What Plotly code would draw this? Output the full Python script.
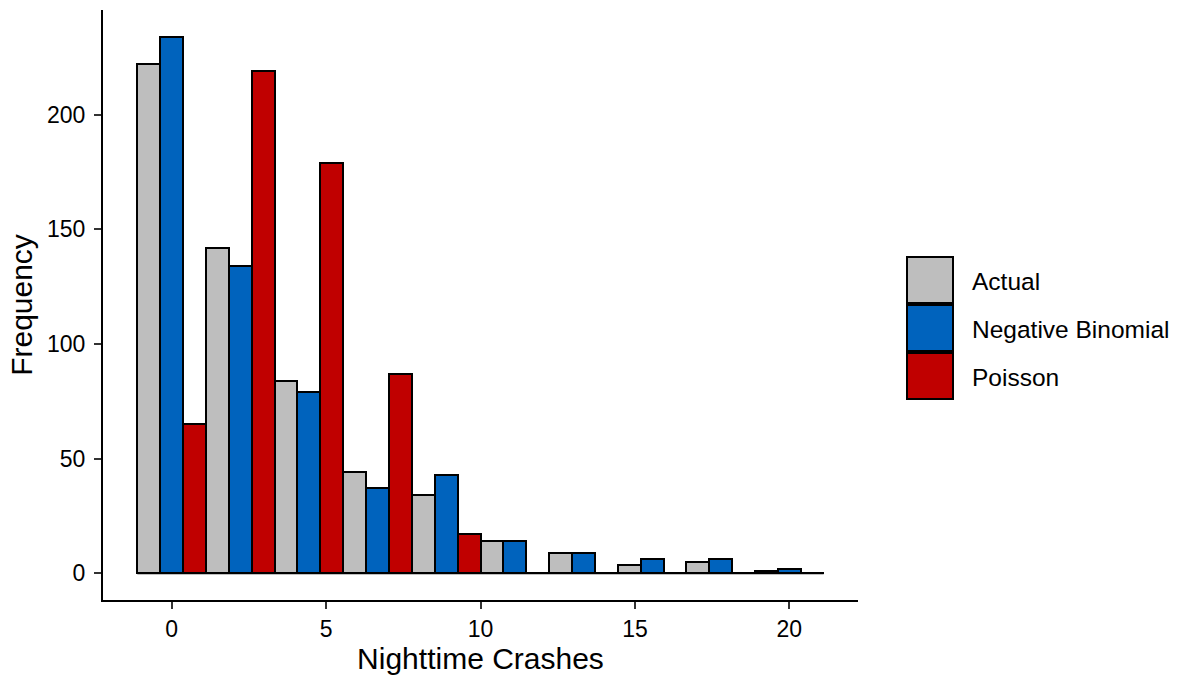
import plotly.graph_objects as go

# ---- data ----
bin_centers = [0.0, 2.2222, 4.4444, 6.6667, 8.8889, 11.1111, 13.3333, 15.5556, 17.7778, 20.0]
bin_width = 20.0 / 9
series_names = ["Actual", "Negative Binomial", "Poisson"]
actual = [222, 142, 84, 44, 34, 14, 9, 3.5, 5, 1]
neg_binomial = [234, 134, 79, 37, 43, 14, 9, 6, 6, 2]
poisson = [65, 219, 179, 87, 17, 0, 0, 0, 0, 0]
colors = ["#BEBEBE", "#0063BD", "#C00000"]
x_ticks = [0, 5, 10, 15, 20]
y_ticks = [0, 50, 100, 150, 200]

FONT = "Liberation Sans, Arial, sans-serif"
W, H = 1181, 680
ML, MR, MT, MB = 103, 323, 10, 80
PW, PH = W - ML - MR, H - MT - MB

def px2x(px):
    return (px - ML) / PW

def px2y(py):
    return (H - MB - py) / PH

fig = go.Figure()
for name, vals, col in zip(series_names, [actual, neg_binomial, poisson], colors):
    fig.add_trace(go.Bar(
        x=bin_centers, y=vals, name=name,
        marker=dict(color=col, line=dict(color="black", width=2)),
        showlegend=False,
    ))

# baseline for zero-height bars (spans the binned range)
fig.add_shape(type="line", xref="x", yref="y",
              x0=bin_centers[0] - bin_width / 2, x1=bin_centers[-1] + bin_width / 2,
              y0=0, y1=0, line=dict(color="black", width=2), layer="above")

# custom legend with large keys
key_top = 257
key_size = 46
pitch = 48
for i, (name, col) in enumerate(zip(series_names, colors)):
    top = key_top + i * pitch
    fig.add_shape(type="rect", xref="paper", yref="paper",
                  x0=px2x(907), x1=px2x(907 + key_size),
                  y0=px2y(top + key_size), y1=px2y(top),
                  fillcolor=col, line=dict(color="black", width=2))
    fig.add_annotation(xref="paper", yref="paper", x=px2x(970), y=px2y(top + key_size / 2 + 1),
                       text=name, showarrow=False, xanchor="left", yanchor="middle",
                       font=dict(family=FONT, size=24.5, color="black"))

xmin = bin_centers[0] - bin_width / 2
xmax = bin_centers[-1] + bin_width / 2
xpad = (xmax - xmin) * 0.05
ymaxv = max(max(actual), max(neg_binomial), max(poisson))
ypad = ymaxv * 0.05

fig.update_layout(
    width=W, height=H,
    margin=dict(l=ML, r=MR, t=MT, b=MB),
    paper_bgcolor="white", plot_bgcolor="white",
    barmode="group", bargap=0, bargroupgap=0,
    font=dict(family=FONT, color="black"),
    xaxis=dict(
        range=[xmin - xpad, xmax + xpad], tickvals=x_ticks, ticktext=[str(v) for v in x_ticks],
        showgrid=False, zeroline=False, showline=True, linecolor="black", linewidth=2,
        ticks="outside", ticklen=7, tickwidth=2, tickcolor="#333333",
        tickfont=dict(family=FONT, size=23, color="black"),
        title=dict(text="Nighttime Crashes", font=dict(family=FONT, size=30, color="black"), standoff=6),
    ),
    yaxis=dict(
        range=[-ypad, ymaxv + ypad], tickvals=y_ticks, ticktext=[str(v) for v in y_ticks],
        showgrid=False, zeroline=False, showline=True, linecolor="black", linewidth=2,
        ticks="outside", ticklen=7, tickwidth=2, tickcolor="#333333",
        tickfont=dict(family=FONT, size=23, color="black"),
        ticklabelstandoff=4,
        title=dict(text="Frequency", font=dict(family=FONT, size=30, color="black"), standoff=6),
    ),
)

fig.write_html("out.html")
